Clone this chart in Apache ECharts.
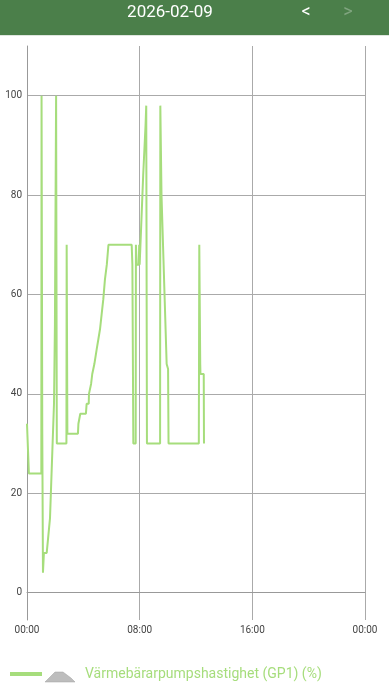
<!DOCTYPE html>
<html>
<head>
<meta charset="utf-8">
<script src="https://cdn.jsdelivr.net/npm/echarts@6/dist/echarts.min.js"></script>
<style>
html,body{margin:0;padding:0;background:#fff;}
#c{width:389px;height:700px;}
</style>
</head>
<body>
<div id="c"></div>
<script>
// Data
const title = "2026-02-09";
const seriesName = "Värmebärarpumpshastighet (GP1) (%)";
const xTickLabels = ["00:00", "08:00", "16:00", "00:00"];
const yTickValues = [0, 20, 40, 60, 80, 100];
const times = [
  "00:00","00:08","01:01","01:02","01:04","01:05","01:08","01:11","01:12","01:24",
  "01:38","01:55","01:57","01:59","02:01","02:04","02:06","02:07","02:48","02:49",
  "02:51","02:52","03:37","03:39","03:46","03:47","04:11","04:14","04:23","04:24",
  "04:31","04:33","04:37","04:38","04:45","04:47","04:55","04:57","05:02","05:04",
  "05:10","05:11","05:17","05:18","05:24","05:25","05:31","05:32","05:38","05:40",
  "05:45","05:47","07:26","07:29","07:33","07:43","07:44","07:47","07:56","07:58",
  "08:00","08:08","08:15","08:25","08:28","08:30","08:31","09:27","09:28","09:30",
  "09:33","09:55","10:01","10:03","12:12","12:14","12:18","12:19","12:33","12:34"
];
const values = [
  34,24,24,100,100,33,4,4,8,8,
  15,38,38,54,54,100,100,30,30,70,
  70,32,32,34,34,36,36,38,38,40,
  40,42,42,44,44,46,46,49,49,51,
  51,53,53,56,56,59,59,63,63,66,
  66,70,70,66,30,30,70,66,66,70,
  66,66,84,94,98,98,30,30,98,98,
  80,46,45,30,30,70,46,44,44,30
];

function toMin(t){const p=t.split(":");return (+p[0])*60+(+p[1]);}
const seriesData = times.map((t,i)=>[toMin(t), values[i]]);

const green = "#a6dd7c";
const chart = echarts.init(document.getElementById("c"));
chart.setOption({
  animation:false,
  backgroundColor:"#ffffff",
  textStyle:{fontFamily:"Roboto"},
  grid:{left:27,right:24,top:46,bottom:80},
  xAxis:{
    type:"value", min:0, max:1440, interval:480,
    axisLine:{show:true,lineStyle:{color:"#999",width:1}},
    axisTick:{show:false},
    splitLine:{show:true,lineStyle:{color:"#aaa",width:1}},
    axisLabel:{color:"#444",fontSize:10,margin:5,
      formatter:function(v){return xTickLabels[Math.round(v/480)];},
      showMinLabel:true, showMaxLabel:true}
  },
  yAxis:{
    type:"value", min:-5.5, max:110,
    axisLine:{show:true,lineStyle:{color:"#999",width:1}},
    axisTick:{show:false, customValues:yTickValues},
    splitLine:{show:true,lineStyle:{color:"#aaa",width:1}},
    axisLabel:{color:"#444",fontSize:10,margin:5,customValues:yTickValues}
  },
  series:[{
    name:seriesName,
    type:"line",
    data:seriesData,
    showSymbol:false,
    lineStyle:{color:green,width:2},
    itemStyle:{color:green}
  }],
  graphic:[
    {type:"rect",shape:{x:0,y:0,width:389,height:35},style:{fill:"#4b7f4a"}},
    {type:"rect",shape:{x:0,y:35,width:389,height:1},style:{fill:"#dfe6df"}},
    {type:"text",x:170,y:13,style:{text:title,fill:"#ffffff",font:"17px Roboto",textAlign:"center",textVerticalAlign:"middle"}},
    {type:"text",x:306,y:12,style:{text:"<",fill:"#ffffff",font:"18px Roboto",textAlign:"center",textVerticalAlign:"middle"}},
    {type:"text",x:348,y:12,style:{text:">",fill:"rgba(255,255,255,0.3)",font:"18px Roboto",textAlign:"center",textVerticalAlign:"middle"}},
    {type:"line",shape:{x1:10,y1:674,x2:42,y2:674},style:{stroke:green,lineWidth:4}},
    {type:"polygon",shape:{points:[[45,682],[55,672],[63,672],[71,678],[75,682]]},style:{fill:"#bdbdbd",stroke:"#a0a0a0",lineWidth:0.5}},
    {type:"text",x:85,y:674,style:{text:seriesName,fill:green,font:"14px Roboto",textVerticalAlign:"middle"}}
  ]
});
</script>
</body>
</html>
